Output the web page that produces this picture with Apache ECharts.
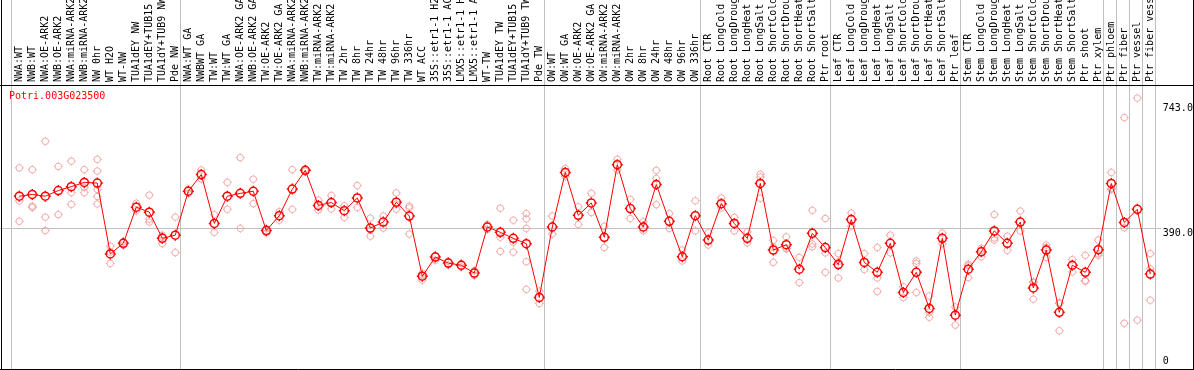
<!DOCTYPE html>
<html><head><meta charset="utf-8">
<script src="https://cdn.jsdelivr.net/npm/echarts@6/dist/echarts.min.js"></script>
<style>html,body{margin:0;padding:0;background:#fff;overflow:hidden}#c{width:1194px;height:370px}</style>
</head><body><div id="c"></div><script>
const geneName = 'Potri.003G023500';
const categories = [
 'NWA:WT','NWB:WT','NWA:OE-ARK2','NWB:OE-ARK2','NWA:miRNA-ARK2','NWB:miRNA-ARK2','NW 0hr','WT H2O','WT-NW','TUA1dEY NW',
 'TUA1dEY+TUB15 NW','TUA1dY+TUB9 NW','Pde NW','NWA:WT GA','NWBWT GA','TW:WT','TW:WT GA','NWA:OE-ARK2 GA','NWB:OE-ARK2 GA','TW:OE-ARK2',
 'TW:OE-ARK2 GA','NWA:miRNA-ARK2 GA','NWB:miRNA-ARK2 GA','TW:miRNA-ARK2','TW:miRNA-ARK2 GA','TW 2hr','TW 8hr','TW 24hr','TW 48hr','TW 96hr',
 'TW 336hr','WT ACC','35S::etr1-1 H2O','35S::etr1-1 ACC','LMX5::etr1-1 H2O','LMX5::etr1-1 ACC','WT-TW','TUA1dEY TW','TUA1dEY+TUB15 TW','TUA1dY+TUB9 TW',
 'Pde TW','OW:WT','OW:WT GA','OW:OE-ARK2','OW:OE-ARK2 GA','OW:miRNA-ARK2','OW:miRNA-ARK2 GA','OW 2hr','OW 8hr','OW 24hr',
 'OW 48hr','OW 96hr','OW 336hr','Root CTR','Root LongCold','Root LongDrought','Root LongHeat','Root LongSalt','Root ShortCold','Root ShortDrought',
 'Root ShortHeat','Root ShortSalt','Ptr root','Leaf CTR','Leaf LongCold','Leaf LongDrought','Leaf LongHeat','Leaf LongSalt','Leaf ShortCold','Leaf ShortDrought',
 'Leaf ShortHeat','Leaf ShortSalt','Ptr leaf','Stem CTR','Stem LongCold','Stem LongDrought','Stem LongHeat','Stem LongSalt','Stem ShortCold','Stem ShortDrought',
 'Stem ShortHeat','Stem ShortSalt','Ptr shoot','Ptr xylem','Ptr phloem','Ptr fiber','Ptr vessel','Ptr fiber vessel'
];
const meanValues = [
 480,485,480,496,507,519,517,317,347,449,
 435,361,370,494,541,403,480,488,494,383,
 425,500,553,454,462,439,475,390,407,463,
 424,254,308,291,285,263,393,378,361,346,
 194,393,547,426,461,364,569,445,393,513,
 409,309,425,356,459,403,361,516,328,343,
 274,375,335,287,414,293,265,347,208,265,
 163,361,144,274,323,382,347,407,221,328,
 152,285,265,329,516,406,443,260
];
const replicateValues = [
 [560,467,409],[555,452,448],[635,421,383],[564,428],[579,490,457],[555,505,490],[584,551,499,479,458],[339,322,290],[352,342],[460,438],
 [483,407,415],[370,346,366],[421,321],[500,488],[554,529],[428,378],[519,443],[589,389],[528,459],[376,389],
 [436,412],[555,443],[555,551],[469,441],[482,444],[453,420],[510,448],[418,367,385],[424,390],[489,443,457],
 [452,373,447],[263,243,256],[313,299,312],[296,286],[290,280],[270,256],[400,386],[446,364,324],[412,350,322],[431,416,389,295,217],
 [212,177],[424,373],[558,536],[450,400],[488,434],[395,335],[584,554],[471,417],[408,382],[553,530,456],
 [431,389],[328,297],[467,382],[377,342],[475,447],[420,382],[379,348],[542,534,474],[355,336,293],[365,332,332],
 [307,236],[440,345,337],[417,320,265],[318,295,249],[432,396],[318,273],[335,249,211],[370,320],[224,194],[297,290,208],
 [198,152,138],[376,346],[167,116],[288,284,250],[333,327,309],[428,362,356],[367,327],[438,382],[238,236,189],[342,335,307],
 [177,179,100],[301,266],[313,242,240],[356,318,313],[547,502,499],[702,391,121],[757,130],[318,275,186]
];
const yTickValues = [0, 390, 743];
const groupStarts = [0, 13, 41, 53, 63, 73, 84, 85, 86, 87, 88];
const refValue = 390;

const FONT = 'DejaVu Sans Mono';
const chart = echarts.init(document.getElementById('c'), null, {renderer: 'canvas'});
const repData = [];
replicateValues.forEach((arr, i) => arr.forEach(v => repData.push([i, v])));
const markPath = 'path://M0,-5.5L0,-4M0,4L0,5.5M-5.5,0L-4,0M4,0L5.5,0M4,0A4,4,0,1,1,-4,0A4,4,0,1,1,4,0Z';

chart.setOption({
  animation: false,
  title: {text: geneName, left: 9, top: 91, padding: 0, textStyle: {color: '#ff0000', fontFamily: FONT, fontSize: 10, fontWeight: 'normal'}},
  grid: {left: 12.8, right: 37.2, top: 85, bottom: 1, containLabel: false, outerBoundsMode: 'none'},
  xAxis: {type: 'category', position: 'top', data: categories, boundaryGap: true,
    axisLine: {show: false}, axisTick: {show: false}, splitLine: {show: false},
    axisLabel: {interval: 0, rotate: 90, margin: 3, color: '#000', fontFamily: FONT, fontSize: 10}},
  yAxis: {type: 'value', position: 'right', min: -8, max: 794,
    axisLine: {show: false}, axisTick: {show: false}, splitLine: {show: false},
    axisLabel: {customValues: yTickValues, margin: 6, color: '#000', fontFamily: FONT, fontSize: 10,
      align: 'left', verticalAlign: 'middle', lineHeight: 10,
      formatter: v => v === 0 ? '0\n' : '\n' + Number(v).toFixed(1)}},
  series: [
    {type: 'scatter', data: repData, symbol: markPath, symbolSize: 9,
     itemStyle: {color: 'rgba(0,0,0,0)', borderColor: '#f09a9a', borderWidth: 1}, z: 2},
    {type: 'line', data: meanValues, symbol: markPath, symbolSize: 11, showAllSymbol: true,
     lineStyle: {color: '#ff0000', width: 1},
     itemStyle: {color: 'rgba(0,0,0,0)', borderColor: '#ff0000', borderWidth: 1.5}, z: 3}
  ]
});

const c0 = chart.convertToPixel({xAxisIndex: 0}, 0);
const c1 = chart.convertToPixel({xAxisIndex: 0}, 1);
const band = c1 - c0;
const els = [];
groupStarts.forEach(i => {
  const x = Math.round(c0 + (i - 0.5) * band - 2) + 0.5;
  els.push({type: 'line', z: 0, shape: {x1: x, y1: 0, x2: x, y2: 369}, style: {stroke: '#c0c0c0', lineWidth: 1}});
});
const yRef = Math.round(chart.convertToPixel({yAxisIndex: 0}, refValue)) + 0.5;
els.push({type: 'line', z: 0, shape: {x1: 0, y1: yRef, x2: 1161, y2: yRef}, style: {stroke: '#c0c0c0', lineWidth: 1}});
els.push({type: 'line', z: 1, shape: {x1: 0, y1: 85.5, x2: 1194, y2: 85.5}, style: {stroke: '#000', lineWidth: 1}});
els.push({type: 'line', z: 1, shape: {x1: 0, y1: 369.5, x2: 1194, y2: 369.5}, style: {stroke: '#000', lineWidth: 1}});
els.push({type: 'line', z: 1, shape: {x1: 1.5, y1: 0, x2: 1.5, y2: 370}, style: {stroke: '#000', lineWidth: 1}});
els.push({type: 'line', z: 1, shape: {x1: 1193.5, y1: 0, x2: 1193.5, y2: 370}, style: {stroke: '#000', lineWidth: 1}});
chart.setOption({graphic: {elements: els}});
</script></body></html>
